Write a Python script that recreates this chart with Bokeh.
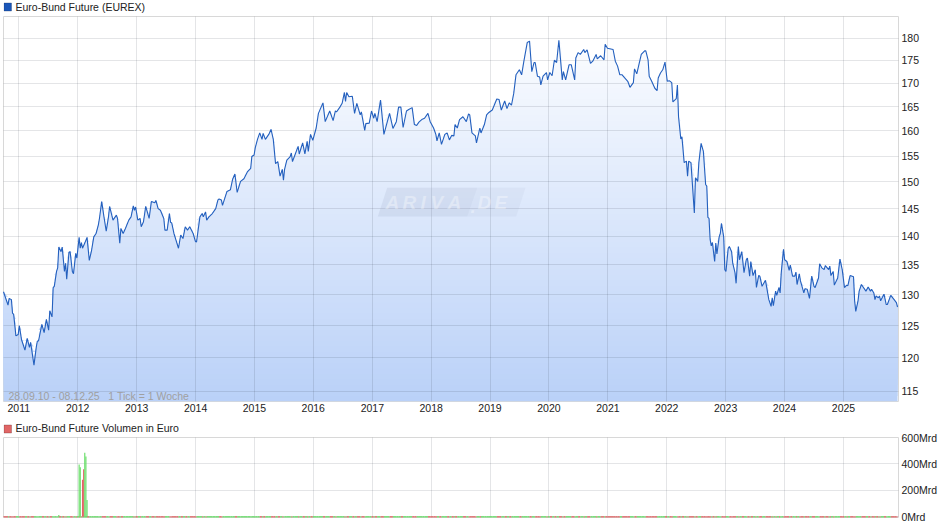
from datetime import date
import numpy as np
from bokeh.plotting import figure
from bokeh.layouts import column
from bokeh.models import (FixedTicker, Range1d, Label, BoxAnnotation, PolyAnnotation)
from bokeh.embed import file_html
from bokeh.resources import INLINE

title_main = "Euro-Bund Future (EUREX)"
title_vol = "Euro-Bund Future Volumen in Euro"
range_note = "28.09.10 - 08.12.25\u00a0\u00a0\u00a01 Tick = 1 Woche"
start_date = date(2010, 9, 28)
end_date = date(2025, 12, 8)
year_labels = list(range(2011, 2026))
price_ticks = [115, 120, 125, 130, 135, 140, 145, 150, 155, 160, 165, 170, 175, 180]
vol_ticks = [0, 200, 400, 600]

weeks = [0,4,5,7,8,9,11,13,14,16,19,21,23,24,27,29,30,31,34,36,38,40,41,43,44,45,47,48,49,51,52,54,55,56,58,59,61,62,64,65,67,68,69,70,72,74,76,78,80,82,84,
85,87,89,91,93,94,97,100,101,103,104,106,108,111,113,115,116,117,119,121,122,124,126,129,131,134,135,137,139,142,143,145,147,148,149,151,153,155,157,159,161,163,165,168,170,171,174,176,177,179,180,182,185,188,190,191,193,194,196,198,201,203,205,207,210,213,216,219,220,222,223,225,227,229,230,232,235,237,239,241,243,245,247,248,249,251,254,255,256,258,261,262,265,267,269,270,272,274,
277,279,283,285,289,292,294,295,298,300,302,303,304,306,309,311,313,316,317,320,321,324,326,328,329,331,334,337,342,345,348,350,352,354,357,359,362,364,366,368,371,373,376,378,381,383,384,386,388,391,393,395,397,399,400,402,404,407,410,412,413,415,418,419,422,423,426,428,430,433,437,439,441,444,446,448,450,452,454,457,459,461,464,466,468,470,471,473,475,476,478,481,482,484,486,488,490,492,495,496,498,501,503,506,507,509,511,514,515,517,520,522,525,526,529,532,533,535,540,542,544,
546,548,553,555,558,559,561,565,568,569,571,572,574,577,579,580,582,584,586,588,590,592,593,596,597,598,600,601,603,605,606,607,609,612,613,615,616,618,620,622,623,624,625,626,627,628,630,631,632,634,635,636,638,639,640,642,643,645,646,648,649,651,652,654,656,658,659,661,662,664,666,667,669,670,672,675,678,680,681,682,684,685,687,688,689,691,692,694,696,697,699,701,702,703,705,706,709,710,712,714,716,718,719,722,723,725,727,728,731,732,733,735,736,739,741,743,745,747,748,750,753,754,755,757,758,760,764,766,768,769,771,772,773,775,776,777,780,782,783,786,789,791,792]

prices = [130.5,128.3,129.4,129.2,127.0,126.8,123.4,123.6,125.0,122.8,121.2,123.0,121.6,122.4,118.9,121.6,122.6,122.6,125.2,123.9,126.0,124.3,127.4,126.4,131.2,131.4,133.9,134.5,138.1,137.3,138.1,133.9,135.3,132.6,137.2,137.3,133.9,133.5,137.0,136.2,139.8,137.9,138.9,137.9,138.8,139.8,135.8,137.5,139.9,140.5,142.0,
143.2,146.3,143.5,140.9,143.5,145.4,142.9,143.8,143.2,138.8,141.4,140.5,141.4,142.9,143.5,145.5,144.7,145.3,142.9,143.2,141.7,142.6,145.4,143.2,146.3,146.1,146.5,145.0,144.7,143.2,141.1,141.1,144.1,142.5,142.4,140.5,139.2,137.9,140.2,139.6,141.7,141.1,141.7,140.5,139.1,139.0,143.5,144.1,143.5,144.4,142.9,143.5,144.1,145.0,146.6,146.8,146.6,145.6,146.9,148.2,148.5,150.5,151.5,148.0,150.1,150.6,151.9,152.6,154.9,155.2,156.6,158.3,159.6,158.3,159.5,158.3,159.3,160.3,158.3,153.5,153.9,151.1,152.4,150.3,152.4,154.2,154.9,155.6,153.9,155.1,156.9,155.4,157.6,155.4,157.9,155.9,159.3,158.1,
160.6,163.6,165.8,161.9,164.1,162.1,164.1,163.9,164.9,165.7,168.0,166.1,168.0,167.1,167.2,163.6,165.7,163.3,163.9,160.1,161.5,161.6,164.1,162.6,163.6,161.9,166.4,159.3,163.6,160.5,161.9,164.9,164.9,160.7,164.1,164.4,164.8,161.3,161.1,161.8,162.4,162.6,163.6,161.9,160.6,159.3,158.0,159.6,157.3,159.3,159.6,158.2,159.1,159.0,161.3,160.6,162.3,162.9,161.9,163.5,163.3,159.6,159.0,157.6,160.6,159.6,161.3,163.3,163.8,164.3,166.6,166.5,164.3,166.2,164.6,165.8,165.3,167.8,171.8,172.9,171.8,174.8,179.0,179.3,172.5,174.5,174.5,171.5,171.3,169.6,171.5,172.3,170.7,172.3,171.6,175.0,174.5,179.5,170.7,172.5,170.7,174.0,174.0,170.7,175.5,176.7,176.3,177.4,176.7,177.3,174.3,174.8,176.3,175.3,176.0,175.1,178.6,177.7,177.4,174.8,173.7,
171.8,171.8,170.4,169.1,170.1,173.1,172.0,176.3,177.1,177.1,175.1,171.5,170.5,168.9,168.4,171.1,172.2,172.9,174.6,170.4,170.5,170.1,166.0,166.7,169.6,162.9,158.4,158.8,153.7,154.0,151.1,154.0,153.7,144.2,150.8,150.1,153.7,157.5,155.9,149.5,149.2,143.4,143.2,139.4,138.3,138.9,135.6,138.8,136.9,139.9,140.5,142.3,139.9,134.2,133.9,137.9,138.2,137.3,135.3,133.7,131.9,138.2,135.9,137.3,133.7,135.9,136.2,133.1,135.6,133.2,134.2,131.2,133.2,133.1,131.4,132.4,129.2,128.1,129.5,128.2,130.6,129.9,131.2,130.3,133.7,137.7,135.9,135.6,134.1,135.0,133.1,133.1,133.8,131.7,133.5,132.3,130.3,131.0,130.9,129.4,133.1,131.4,131.2,132.8,135.2,134.5,134.2,134.9,134.2,134.8,133.2,133.9,131.6,132.8,136.0,134.2,131.2,131.6,131.5,133.2,133.0,129.0,127.3,129.0,130.6,131.7,130.6,131.3,130.6,130.9,130.3,129.2,129.8,129.5,129.8,129.0,130.1,128.4,128.4,129.9,129.2,128.7,128.0]

# volume in Mrd Euro
spike_weeks = [49, 67, 68, 70, 71, 72, 73, 74]
spike_values = [12, 395, 375, 280, 360, 484, 456, 127]
spike_up = [True, True, True, False, False, True, True, True]
base_volume = 4

RED = "#e06666"
GREEN = "#66dd66"
GRID = "#202838"
GRID_ALPHA = 0.12
FONT = "Liberation Sans"
FS = "10.5px"

days = np.array(weeks, dtype=float) * 7
n = min(len(days), len(prices))
days, px = days[:n], np.array(prices[:n], dtype=float)
total_days = (end_date - start_date).days
tick_days = [(date(y, 1, 1) - start_date).days for y in year_labels]
overrides = {d: str(y) for d, y in zip(tick_days, year_labels)}

Y_LO, Y_HI = 113.55, 184.98
W = 940
H_HEAD, H1, H2 = 15, 406, 98

def style(p, yticks):
    p.xaxis.ticker = FixedTicker(ticks=tick_days)
    p.yaxis.ticker = FixedTicker(ticks=yticks)
    for ax in (p.xaxis[0], p.yaxis[0]):
        ax.major_tick_line_color = None
        ax.minor_tick_line_color = None
        ax.major_tick_out = 0
        ax.major_tick_in = 0
        ax.minor_tick_out = 0
        ax.minor_tick_in = 0
        ax.axis_line_color = None
        ax.major_label_text_font = FONT
        ax.major_label_text_font_size = FS
        ax.major_label_text_color = "#222222"
    p.yaxis.major_label_standoff = 3
    p.xaxis.major_label_standoff = 2
    for g in p.grid:
        g.grid_line_color = GRID
        g.grid_line_alpha = GRID_ALPHA
        g.level = "guide"
    p.outline_line_color = "#d8d8d8"
    p.outline_line_width = 1

def header(text, colour, edge, box_top, box_bottom, text_y):
    h = figure(width=W, height=H_HEAD, output_backend="svg", toolbar_location=None,
               x_axis_location=None, y_axis_location=None, x_range=Range1d(0, 1), y_range=Range1d(0, 1),
               min_border_left=3, min_border_right=42, min_border_top=0, min_border_bottom=0)
    h.grid.visible = False
    h.outline_line_color = None
    h.add_layout(BoxAnnotation(left=0.5, right=8, top=box_top, bottom=box_bottom, left_units="screen",
                               right_units="screen", top_units="screen", bottom_units="screen",
                               fill_color=colour, fill_alpha=1, line_color=edge, line_width=1))
    h.add_layout(Label(x=12, y=text_y, x_units="screen", y_units="screen", text=text,
                       text_font=FONT, text_font_size=FS, text_color="#222222"))
    return h

head1 = header(title_main, "#1a56b8", "#17305c", 12.5, 4.5, 3)
head2 = header(title_vol, RED, "#5c2020", 11.5, 3.5, 3)

# main chart
p1 = figure(width=W, height=H1, output_backend="svg", toolbar_location=None, y_axis_type="log",
            y_axis_location="right", x_range=Range1d(0, total_days), y_range=Range1d(Y_LO, Y_HI),
            min_border_left=3, min_border_right=42, min_border_top=1, min_border_bottom=20)
style(p1, price_ticks)
p1.xaxis.major_label_overrides = overrides
p1.yaxis.major_label_overrides = {t: str(t) for t in price_ticks}

levels = np.geomspace(Y_LO, Y_HI, 71)
top_col = np.array([255, 255, 255.0])
bot_col = np.array([186, 209, 248.0])
for i, lo in enumerate(levels[:-1]):
    f = i / (len(levels) - 2)
    c = bot_col + (top_col - bot_col) * f
    col = "#%02x%02x%02x" % tuple(int(round(v)) for v in c)
    p1.varea(x=days, y1=np.full(n, lo), y2=np.maximum(px, lo), fill_color=col, fill_alpha=1.0)

# watermark (screen units run from the frame's lower left corner)
FB1, FL = 401, 3
def wm_poly(xs, ys, alpha):
    p1.add_layout(PolyAnnotation(xs=[x - FL for x in xs], ys=[FB1 - y for y in ys],
                                 xs_units="screen", ys_units="screen", fill_color="#8c9cb8", fill_alpha=alpha,
                                 line_color=None))
wm_poly([386.7, 476.7, 466.7, 377.3], [187.3, 187.3, 216, 216], 0.16)
wm_poly([476.7, 525, 515.7, 466.7], [187.3, 187.3, 216, 216], 0.08)
for ch, x in zip("ARIVA.DE", (385, 402, 420, 430, 447, 470, 477, 494)):
    p1.add_layout(Label(x=x - FL, y=FB1 - 212, x_units="screen", y_units="screen", text=ch, text_font=FONT,
                        text_font_style="bold italic", text_font_size="19px", text_color="#ffffff", text_alpha=0.35))

p1.line(days, px, line_color="#2460be", line_width=1.1, level="annotation")

p1.add_layout(Label(x=8 - FL, y=FB1 - 401, x_units="screen", y_units="screen", text=range_note,
                    text_font=FONT, text_font_size=FS, text_color="#a0a0a0"))

# volume chart: its top border overlaps the header so that the 600Mrd label has room
p2 = figure(width=W, height=H2, output_backend="svg", toolbar_location=None, y_axis_location="right",
            x_range=Range1d(0, total_days), y_range=Range1d(-6, 600),
            min_border_left=3, min_border_right=42, min_border_top=9, min_border_bottom=9,
            margin=(-8, 0, 0, 0), border_fill_color=None, background_fill_color=None)
style(p2, vol_ticks)
p2.xaxis.visible = False
p2.yaxis.major_label_overrides = {t: f"{t}Mrd" for t in vol_ticks}

up = np.diff(px) >= 0
p2.quad(left=days[:-1], right=days[1:], bottom=-6, top=base_volume,
        fill_color=[GREEN if u else RED for u in up], line_color=None, level="overlay")
p2.vbar(x=np.array(spike_weeks) * 7.0, top=spike_values, width=7, bottom=0,
        fill_color=[GREEN if u else RED for u in spike_up], line_color=None, level="overlay")

page = column(head1, p1, head2, p2, spacing=0)
open("out.html", "w").write(file_html(page, INLINE))
